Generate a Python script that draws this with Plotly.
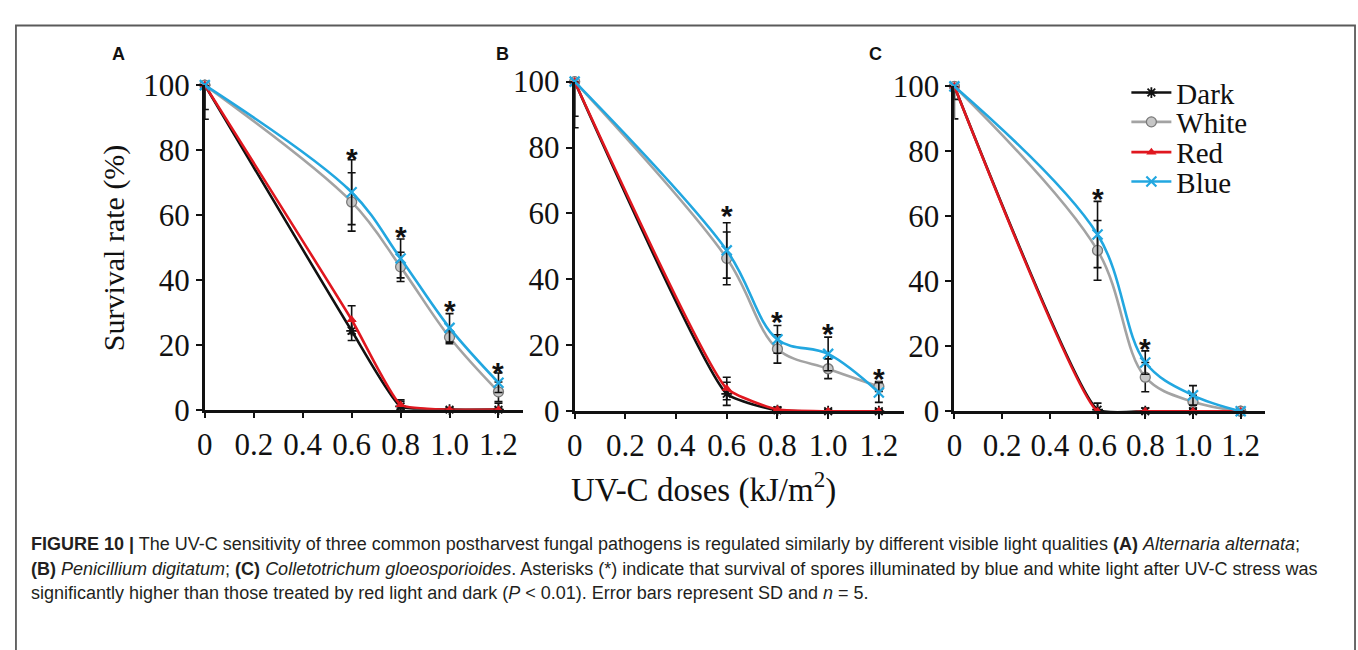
import plotly.graph_objects as go

W, H = 1358, 650

# ---------------- data ----------------
doses = [0, 0.6, 0.8, 1.0, 1.2]
x_ticks = [0, 0.2, 0.4, 0.6, 0.8, 1.0, 1.2]
x_tick_text = ["0", "0.2", "0.4", "0.6", "0.8", "1.0", "1.2"]
y_ticks = [0, 20, 40, 60, 80, 100]
series_names = ["Dark", "White", "Red", "Blue"]

# Panel A - Alternaria alternata
a_dark = [100, 24.3, 1.0, 0, 0]
a_dark_sd = [10.5, 3.0, 2.0, 0.5, 2.0]
a_white = [100, 64.0, 44.0, 22.3, 5.5]
a_white_sd = [0, 9.0, 4.5, 2.0, 3.0]
a_red = [100, 27.7, 1.5, 0, 0]
a_red_sd = [7.5, 4.3, 1.0, 0.5, 0.5]
a_blue = [100, 67.0, 46.6, 25.2, 8.3]
a_blue_sd = [0, 10.0, 6.0, 4.4, 3.0]
a_star_x = [0.6, 0.8, 1.0, 1.2]
a_star_y = [80, 55.8, 33, 14]

# Panel B - Penicillium digitatum
b_dark = [100, 5.3, 0.3, 0, 0]
b_dark_sd = [14, 3.5, 1.0, 0.5, 0.5]
b_white = [100, 46.4, 18.9, 12.9, 7.5]
b_white_sd = [0, 8.0, 4.3, 3.0, 1.5]
b_red = [100, 6.9, 0.5, 0, 0]
b_red_sd = [10.5, 3.4, 0.5, 0.5, 0.5]
b_blue = [100, 48.8, 21.8, 17.4, 5.7]
b_blue_sd = [0, 8.4, 4.2, 5.1, 3.0]
b_star_x = [0.6, 0.8, 1.0, 1.2]
b_star_y = [61.7, 29.7, 26, 12.4]

# Panel C - Colletotrichum gloeosporioides
c_dark = [100, 0.5, 0, 0, 0]
c_dark_sd = [10, 2.0, 1.0, 0.5, 0]
c_white = [100, 49.5, 10.5, 2.9, 0]
c_white_sd = [0, 9.2, 4.5, 2.0, 0]
c_red = [100, 0, 0, 0, 0]
c_red_sd = [4, 0, 0, 0, 0]
c_blue = [100, 54.4, 15.0, 4.9, 0]
c_blue_sd = [0, 10.2, 3.6, 3.0, 0]
c_star_x = [0.6, 0.8]
c_star_y = [68, 21.8]

panel_labels = ["A", "B", "C"]

# ---------------- styles ----------------
SERIF = "Liberation Serif"
SANS = "Liberation Sans"
styles = {
    "Dark": dict(color="#111111", symbol="asterisk-open", msize=9, mline=1.8,
                 mcolor="#111111", smoothing=0.45),
    "White": dict(color="#a3a3a3", symbol="circle", msize=10, mline=1.3,
                  mcolor="#c6c6c6", smoothing=1.0),
    "Red": dict(color="#e0171f", symbol="triangle-up", msize=9, mline=0,
                mcolor="#e0171f", smoothing=0.45),
    "Blue": dict(color="#22a7e0", symbol="x-thin-open", msize=10, mline=2.2,
                 mcolor="#22a7e0", smoothing=1.0),
}
legend_keys = {"Dark": "legend", "White": "legend2", "Red": "legend3", "Blue": "legend4"}
legend_center_px = {"Dark": 80, "White": 111, "Red": 143, "Blue": 174}

panels = [
    dict(ax="", series={"Dark": (a_dark, a_dark_sd), "White": (a_white, a_white_sd),
                        "Red": (a_red, a_red_sd), "Blue": (a_blue, a_blue_sd)},
         sx=a_star_x, sy=a_star_y, xpx=(198, 518), ypx=(415, 72), label_px=111),
    dict(ax="2", series={"Dark": (b_dark, b_dark_sd), "White": (b_white, b_white_sd),
                         "Red": (b_red, b_red_sd), "Blue": (b_blue, b_blue_sd)},
         sx=b_star_x, sy=b_star_y, xpx=(570, 901.5), ypx=(416.7, 68.3), label_px=497),
    dict(ax="3", series={"Dark": (c_dark, c_dark_sd), "White": (c_white, c_white_sd),
                         "Red": (c_red, c_red_sd), "Blue": (c_blue, c_blue_sd)},
         sx=c_star_x, sy=c_star_y, xpx=(952, 1264), ypx=(416.7, 73.3), label_px=873),
]

fig = go.Figure()
annotations = []

for pi, p in enumerate(panels):
    xr, yr = "x" + p["ax"], "y" + p["ax"]
    for name in series_names:
        vals, sd = p["series"][name]
        st = styles[name]
        up = [min(s, 100 - v) for v, s in zip(vals, sd)]
        dn = [min(s, v) if v > 0 else 0 for v, s in zip(vals, sd)]
        marker = dict(symbol=st["symbol"], size=st["msize"], color=st["mcolor"])
        if name == "White":
            marker["line"] = dict(color="#7a7a7a", width=st["mline"])
        elif st["mline"]:
            marker["line"] = dict(color=st["mcolor"], width=st["mline"])
        fig.add_trace(go.Scatter(
            x=doses, y=vals, xaxis=xr, yaxis=yr, name=name,
            mode="lines+markers",
            line=dict(color=st["color"], width=2.6, shape="spline", smoothing=st["smoothing"]),
            marker=marker,
            error_y=dict(type="data", symmetric=False, array=up, arrayminus=dn,
                         color="#111111", thickness=1.6, width=4),
            cliponaxis=False,
            showlegend=(pi == 2),
            legend=legend_keys[name],
            hoverinfo="x+y+name",
        ))
    for sxv, syv in zip(p["sx"], p["sy"]):
        annotations.append(dict(x=sxv, y=syv, xref=xr, yref=yr, text="*",
                                showarrow=False, font=dict(family=SANS, size=30, color="#111111", weight="bold"),
                                xanchor="center", yanchor="middle", yshift=-8))
    annotations.append(dict(x=p["label_px"] / W, y=1 - 39 / H, xref="paper", yref="paper",
                            text="<b>%s</b>" % panel_labels[pi], showarrow=False,
                            font=dict(family=SANS, size=18, color="#111111"),
                            xanchor="center", yanchor="middle"))

axis_common = dict(showline=True, linecolor="#111111", linewidth=3, ticks="outside",
                   tickcolor="#111111", tickwidth=2, showgrid=False, zeroline=False,
                   tickfont=dict(family=SERIF, size=31, color="#111111"), fixedrange=True)
layout_axes = {}
for p in panels:
    (x0, x1), (yb, yt) = p["xpx"], p["ypx"]
    layout_axes["xaxis" + p["ax"]] = dict(axis_common, domain=[x0 / W, x1 / W], range=[0, 1.3],
                                          anchor="y" + p["ax"], tickvals=x_ticks,
                                          ticktext=x_tick_text, ticklen=5)
    layout_axes["yaxis" + p["ax"]] = dict(axis_common, domain=[1 - yb / H, 1 - yt / H], range=[0, 100],
                                          anchor="x" + p["ax"], tickvals=y_ticks, ticklen=6)

# axis titles
annotations.append(dict(x=106 / W, y=1 - 244 / H, xref="paper", yref="paper",
                        text="Survival rate (%)", textangle=-90, showarrow=False,
                        font=dict(family=SERIF, size=30, color="#111111"),
                        xanchor="center", yanchor="middle"))
annotations.append(dict(x=700 / W, y=1 - 497 / H, xref="paper", yref="paper",
                        text="UV-C doses (kJ/m<sup>2</sup>)", showarrow=False,
                        font=dict(family=SERIF, size=33, color="#111111"),
                        xanchor="center", yanchor="middle"))

# caption
caption_lines = [
    "<b>FIGURE 10 |</b> The UV-C sensitivity of three common postharvest fungal pathogens is regulated similarly by different visible light qualities <b>(A)</b> <i>Alternaria alternata</i>;",
    "<b>(B)</b> <i>Penicillium digitatum</i>; <b>(C)</b> <i>Colletotrichum gloeosporioides</i>. Asterisks (*) indicate that survival of spores illuminated by blue and white light after UV-C stress was",
    "significantly higher than those treated by red light and dark (<i>P</i> &lt; 0.01). Error bars represent SD and <i>n</i> = 5.",
]
caption_y = [557, 583, 609]
for txt, yy in zip(caption_lines, caption_y):
    annotations.append(dict(x=21 / W, y=1 - yy / H, xref="paper", yref="paper", text=txt,
                            showarrow=False, font=dict(family=SANS, size=18, color="#231f20"),
                            xanchor="left", yanchor="middle", align="left"))

legends = {}
for name in series_names:
    legends[legend_keys[name]] = dict(
        x=1125 / W, y=1 - legend_center_px[name] / H, xanchor="left", yanchor="middle",
        font=dict(family=SERIF, size=29, color="#111111"), bgcolor="rgba(0,0,0,0)",
        borderwidth=0, itemwidth=40)

fig.update_layout(
    width=W, height=H, margin=dict(l=0, r=0, t=0, b=0),
    paper_bgcolor="white", plot_bgcolor="rgba(0,0,0,0)",
    annotations=annotations,
    shapes=[dict(type="rect", xref="paper", yref="paper", x0=8 / W, x1=1355 / W,
                 y0=-0.05, y1=1 - 9 / H, line=dict(color="#5a5a5a", width=1.8))],
    **layout_axes, **legends,
)

fig.write_html("out.html", post_script="document.body.style.margin='0px';document.body.style.overflow='hidden';")
